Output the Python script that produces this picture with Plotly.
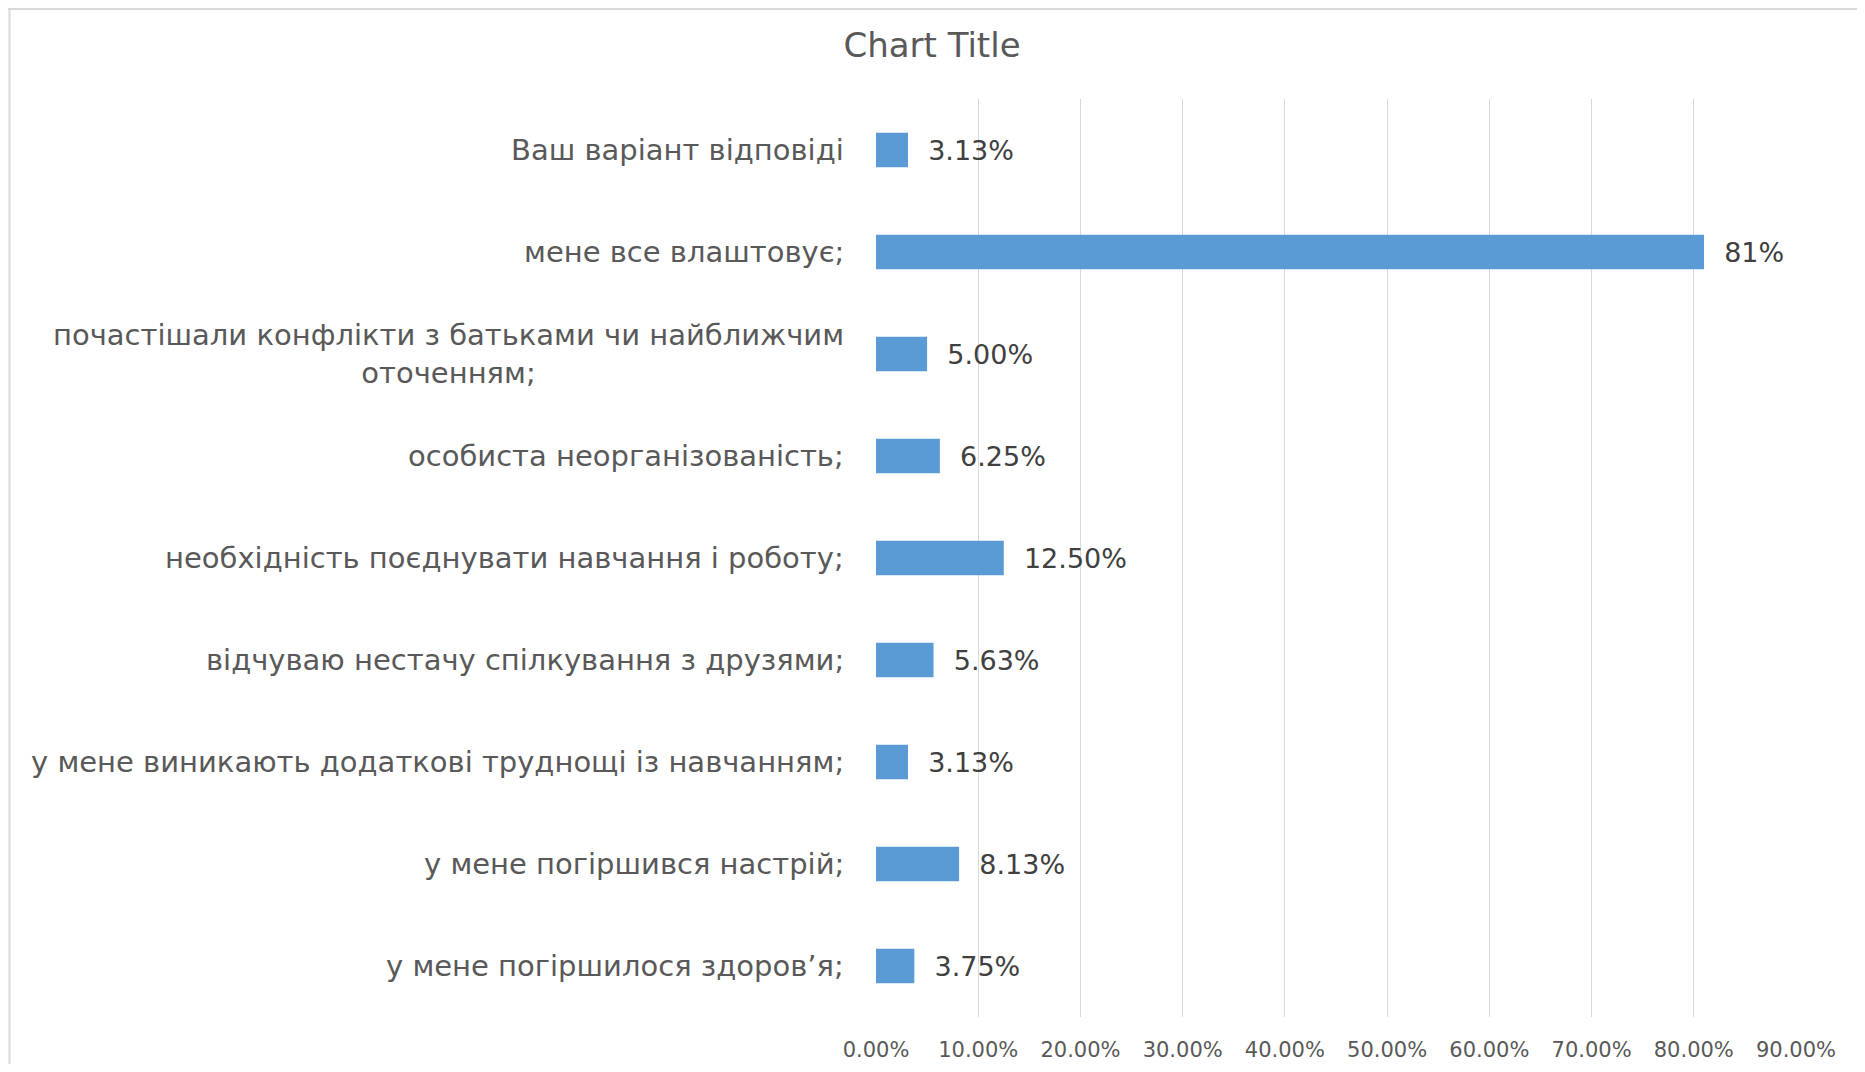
import plotly.graph_objects as go

categories = [
    "Ваш варіант відповіді",
    "мене все влаштовує;",
    "почастішали конфлікти з батьками чи найближчим<br>оточенням;",
    "особиста неорганізованість;",
    "необхідність поєднувати навчання і роботу;",
    "відчуваю нестачу спілкування з друзями;",
    "у мене виникають додаткові труднощі із навчанням;",
    "у мене погіршився настрій;",
    "у мене погіршилося здоров’я;",
]
values = [0.0313, 0.81, 0.05, 0.0625, 0.125, 0.0563, 0.0313, 0.0813, 0.0375]
value_labels = ["3.13%", "81%", "5.00%", "6.25%", "12.50%", "5.63%", "3.13%", "8.13%", "3.75%"]
x_ticks = [0.0, 0.1, 0.2, 0.3, 0.4, 0.5, 0.6, 0.7, 0.8, 0.9]

FONT = "DejaVu Sans"
# page body has an 8px default margin; compensate
W, H = 1849, 1056
L, R, T, B = 868, 61, 91, 47
PW, PH = W - L - R, H - T - B

fig = go.Figure()
fig.add_trace(go.Bar(
    y=categories, x=values, orientation="h",
    marker=dict(color="#5b9bd5", line=dict(width=0)),
    text=value_labels, texttemplate="  %{text}", textposition="outside",
    textfont=dict(family=FONT, size=27, color="#404040"),
    cliponaxis=False, width=0.337,
))

for c in categories:
    fig.add_annotation(
        x=0, y=c, xref="x", yref="y", xanchor="right", yanchor="middle",
        xshift=-30, text=c, showarrow=False, align="center",
        font=dict(family=FONT, size=29, color="#595959"),
    )

fig.update_layout(
    width=W, height=H,
    margin=dict(l=L, r=R, t=T, b=B, autoexpand=False),
    paper_bgcolor="white", plot_bgcolor="white",
    title=dict(text="Chart Title", x=924 / W, xanchor="center", y=1 - 37 / H, yanchor="middle",
               font=dict(family=FONT, size=34, color="#595959")),
    showlegend=False,
)
fig.update_xaxes(
    range=[0, 0.9], tickvals=x_ticks, tickformat=".2%",
    showgrid=True, gridcolor="#d9d9d9", gridwidth=1.3, zeroline=False,
    showline=False, ticks="", ticklabelstandoff=18,
    tickfont=dict(family=FONT, size=21, color="#595959"),
)
fig.update_yaxes(
    autorange="reversed", showticklabels=False, showgrid=False, zeroline=False, ticks="",
)
# chart border (top & left visible)
fig.add_shape(type="line", xref="paper", yref="paper", x0=-L / PW, x1=1 + R / PW,
              y0=1 + (T - 1) / PH, y1=1 + (T - 1) / PH, line=dict(color="#d9d9d9", width=2))
fig.add_shape(type="line", xref="paper", yref="paper", x0=-(L - 1.5) / PW, x1=-(L - 1.5) / PW,
              y0=-B / PH, y1=1 + T / PH, line=dict(color="#d9d9d9", width=2))

fig.write_html("out.html")
